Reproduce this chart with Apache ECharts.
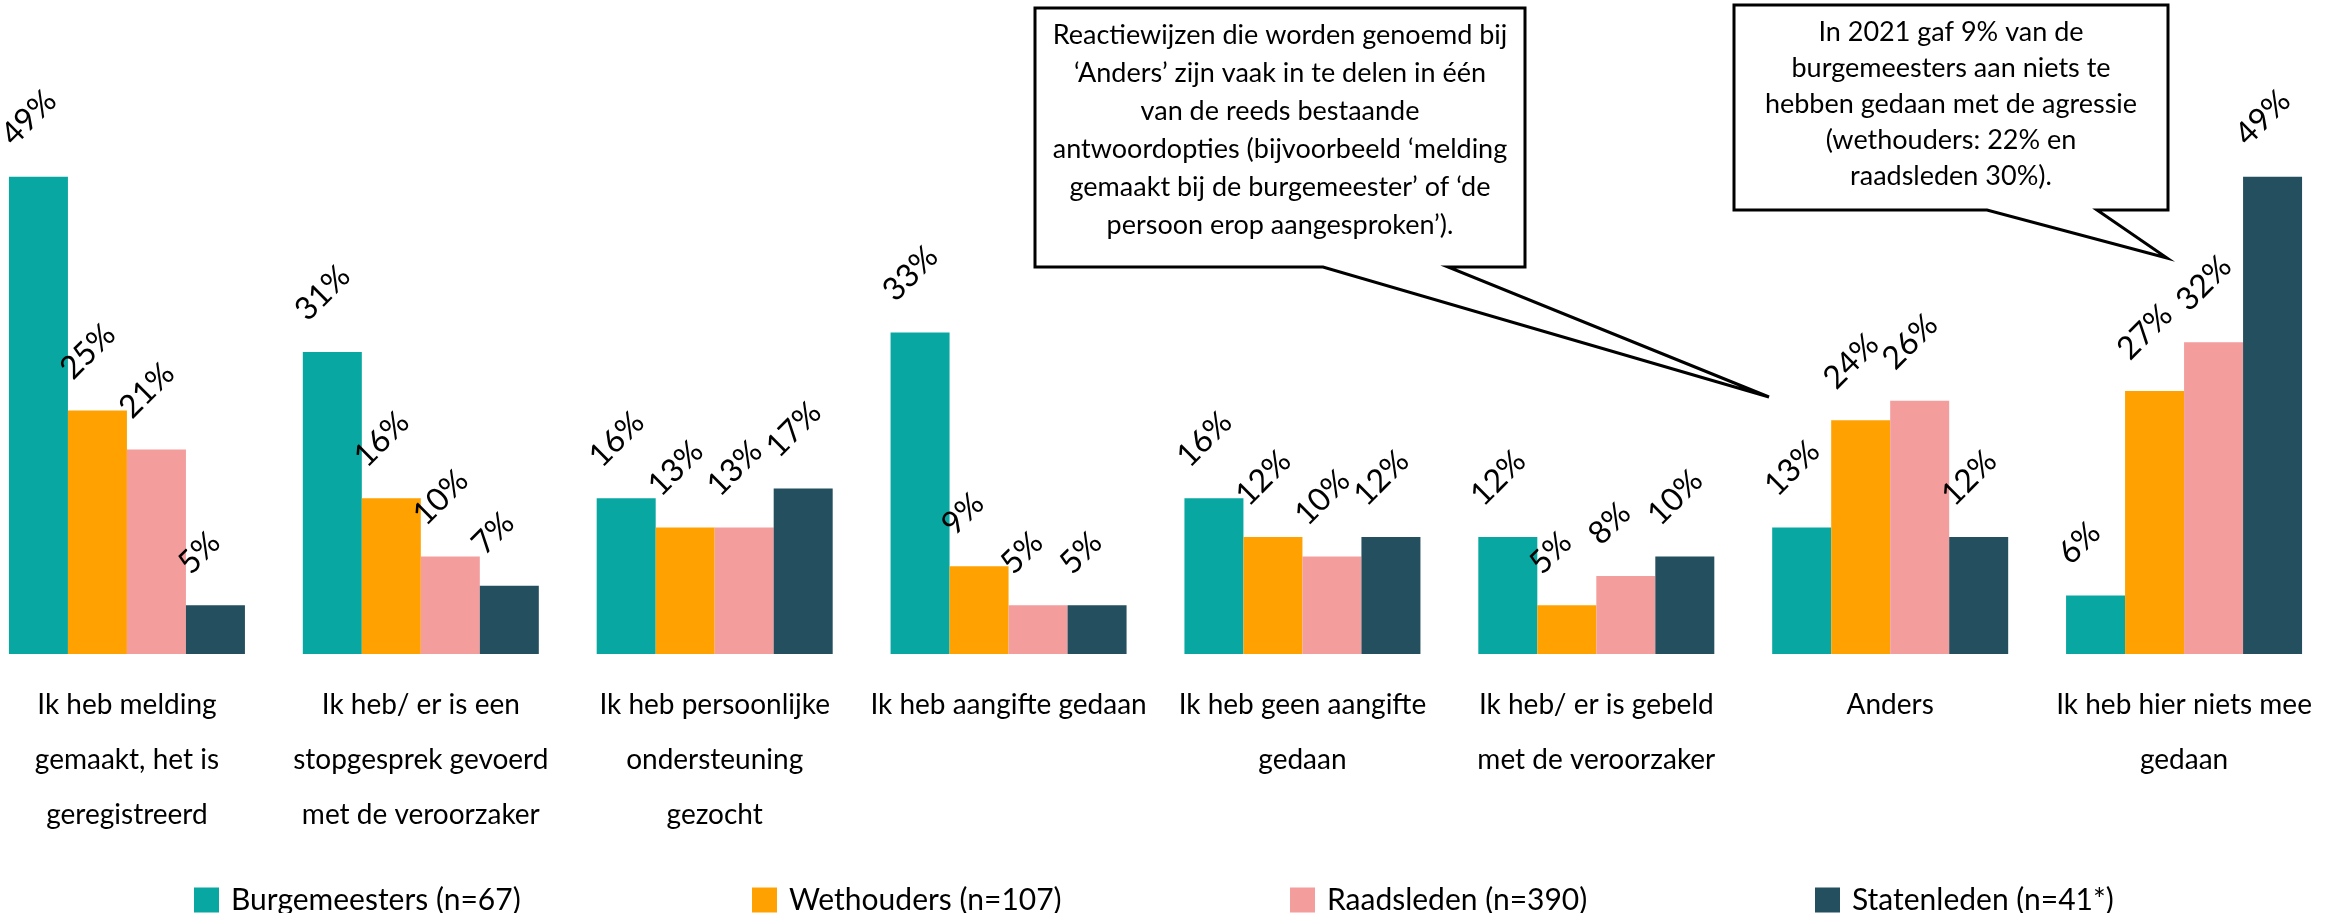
<!DOCTYPE html>
<html>
<head>
<meta charset="utf-8">
<script src="https://cdn.jsdelivr.net/npm/echarts@6/dist/echarts.min.js"></script>
<style>
  html, body { margin: 0; padding: 0; background: #fff; }
  #main { width: 2335px; height: 913px; }
</style>
</head>
<body>
<div id="main"></div>
<script>
var mychart = echarts.init(document.getElementById('main'));

// categories on the x axis (line breaks as in the original)
const categories = [
    'Ik heb melding\ngemaakt, het is\ngeregistreerd',
    'Ik heb/ er is een\nstopgesprek gevoerd\nmet de veroorzaker',
    'Ik heb persoonlijke\nondersteuning\ngezocht',
    'Ik heb aangifte gedaan',
    'Ik heb geen aangifte\ngedaan',
    'Ik heb/ er is gebeld\nmet de veroorzaker',
    'Anders',
    'Ik heb hier niets mee\ngedaan'
];

const seriesNames = ['Burgemeesters (n=67)', 'Wethouders (n=107)', 'Raadsleden (n=390)', 'Statenleden (n=41*)'];

// percentages per group
const burgemeesters = [49, 31, 16, 33, 16, 12, 13, 6];
const wethouders    = [25, 16, 13, 9, 12, 5, 24, 27];
const raadsleden    = [21, 10, 13, 5, 10, 8, 26, 32];
const statenleden   = [5, 7, 17, 5, 12, 10, 12, 49];

const colors = ['#08a7a1', '#ffa201', '#f39d9d', '#234f5e'];

const note1 = 'Reactiewijzen die worden genoemd bij\n\u2018Anders\u2019 zijn vaak in te delen in \u00e9\u00e9n\nvan de reeds bestaande\nantwoordopties (bijvoorbeeld \u2018melding\ngemaakt bij de burgemeester\u2019 of \u2018de\npersoon erop aangesproken\u2019).';
const note2 = 'In 2021 gaf 9% van de\nburgemeesters aan niets te\nhebben gedaan met de agressie\n(wethouders: 22% en\nraadsleden 30%).';

const font = 'Lato';
const allData = [burgemeesters, wethouders, raadsleden, statenleden];

var series = [];
for (let i = 0; i < seriesNames.length; i++) {
    series.push({
        name: seriesNames[i],
        type: 'bar',
        data: allData[i],
        barWidth: 59,
        barGap: '0%',
        itemStyle: { color: colors[i] },
        label: {
            show: true,
            position: 'top',
            rotate: 45,
            align: 'left',
            verticalAlign: 'middle',
            // offset works in the rotated frame
            offset: [0, -45],
            formatter: '{c}%',
            color: '#000',
            fontFamily: font,
            fontSize: 32
        }
    });
}

// one legend block per series so the spacing matches the original
const legendLeft = [194, 752, 1290, 1815];
var legends = [];
for (let i = 0; i < seriesNames.length; i++) {
    legends.push({
        data: [seriesNames[i]],
        left: legendLeft[i],
        top: 885,
        padding: 0,
        icon: 'rect',
        itemWidth: 25,
        itemHeight: 25,
        textStyle: { fontFamily: font, fontSize: 30, color: '#000', padding: [0, 0, 0, 7] }
    });
}

function callout(points, text, cx, cy, lh) {
    return [{
        type: 'polygon',
        shape: { points: points },
        style: { fill: '#fff', stroke: '#000', lineWidth: 3 },
        z: 100
    }, {
        type: 'text',
        x: cx,
        y: cy,
        style: {
            text: text,
            align: 'center',
            verticalAlign: 'middle',
            font: '27px Lato',
            lineHeight: lh,
            fill: '#000'
        },
        z: 101
    }];
}

var graphics = [].concat(
    callout([[1035, 8], [1525, 8], [1525, 267], [1448, 267], [1769, 397], [1323, 267], [1035, 267]],
        note1, 1280, 130, 38),
    callout([[1734, 5], [2168, 5], [2168, 210], [2097, 210], [2167, 258], [1987, 210], [1734, 210]],
        note2, 1951, 104, 36)
);

var option = {
    animation: false,
    backgroundColor: '#fff',
    legend: legends,
    grid: {
        left: -20,
        right: 4,
        top: 167,
        bottom: 259,
        containLabel: false,
        outerBoundsMode: 'none'
    },
    xAxis: {
        type: 'category',
        data: categories,
        axisLine: { show: false },
        axisTick: { show: false },
        axisLabel: {
            interval: 0,
            margin: 23,
            fontFamily: font,
            fontSize: 28,
            lineHeight: 55,
            color: '#000'
        }
    },
    yAxis: {
        type: 'value',
        min: 0,
        max: 50,
        show: false,
        splitLine: { show: false }
    },
    graphic: graphics,
    series: series
};

mychart.setOption(option);
</script>
</body>
</html>
